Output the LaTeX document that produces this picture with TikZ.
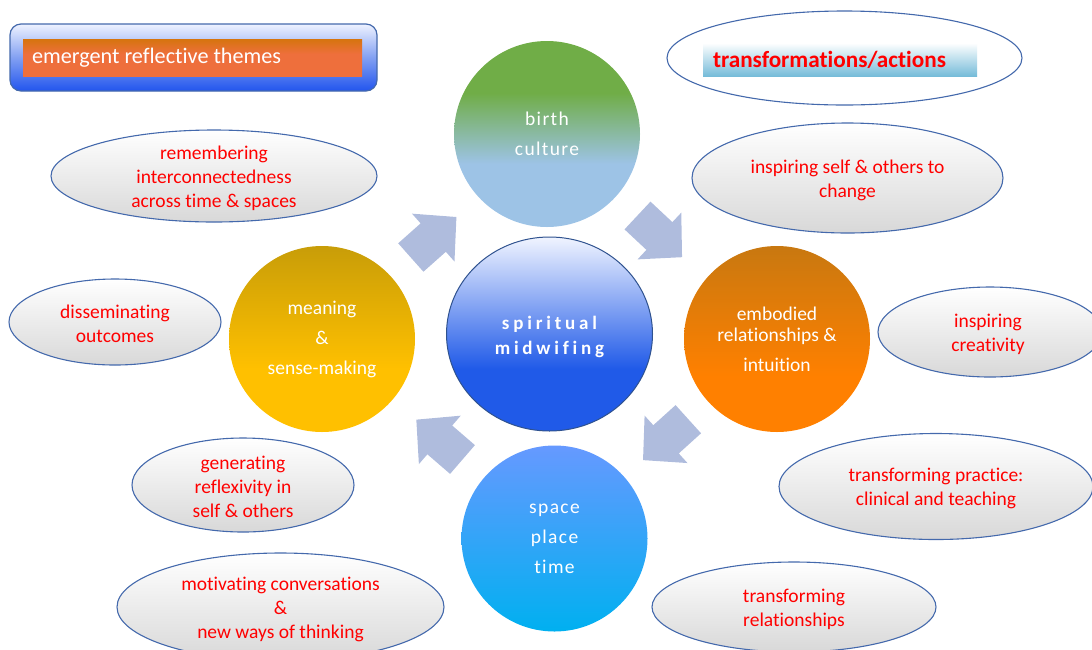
\documentclass[tikz,border=0pt]{standalone}
\usepackage{fontspec}
\setmainfont{Carlito}[Ligatures=NoCommon]
\newfontfamily\trackedfont{Carlito}[LetterSpace=7, Ligatures=NoCommon]
\newfontfamily\widefont{Carlito}[LetterSpace=20, Ligatures=NoCommon]
\usetikzlibrary{shapes.geometric}

% palette
\definecolor{edgeblue}{RGB}{68,105,172}
\definecolor{ellgray}{RGB}{216,216,216}
\definecolor{arrowfill}{RGB}{175,188,221}
\definecolor{leaf}{RGB}{112,173,71}
\definecolor{skyb}{RGB}{157,195,230}
\definecolor{paleblue}{RGB}{240,244,255}
\definecolor{royal}{RGB}{32,90,232}
\definecolor{midblue}{RGB}{47,82,143}
\definecolor{ochre}{RGB}{200,120,16}
\definecolor{tangerine}{RGB}{255,128,0}
\definecolor{mustard}{RGB}{200,157,8}
\definecolor{amber}{RGB}{255,192,0}
\definecolor{cornflower}{RGB}{102,153,255}
\definecolor{cyanish}{RGB}{0,176,240}
\definecolor{bannerlow}{RGB}{34,85,238}
\definecolor{bannermid}{RGB}{130,160,242}
\definecolor{bannertop}{RGB}{238,242,255}
\definecolor{burnt}{RGB}{214,116,14}
\definecolor{salmon}{RGB}{238,111,60}
\definecolor{seablue}{RGB}{118,188,217}
\definecolor{redtext}{RGB}{255,0,0}

% vertical shadings (path spans 25bp..75bp)
\pgfdeclareverticalshading{birthshade}{100bp}{color(0bp)=(skyb); color(42bp)=(skyb); color(61bp)=(leaf); color(100bp)=(leaf)}
\pgfdeclareverticalshading{coreshade}{100bp}{color(0bp)=(royal); color(41bp)=(royal); color(75bp)=(paleblue); color(100bp)=(paleblue)}
\pgfdeclareverticalshading{bodyshade}{100bp}{color(0bp)=(tangerine); color(40bp)=(tangerine); color(75bp)=(ochre); color(100bp)=(ochre)}
\pgfdeclareverticalshading{meanshade}{100bp}{color(0bp)=(amber); color(42bp)=(amber); color(75bp)=(mustard); color(100bp)=(mustard)}
\pgfdeclareverticalshading{spaceshade}{100bp}{color(0bp)=(cyanish); color(25bp)=(cyanish); color(75bp)=(cornflower); color(100bp)=(cornflower)}
\pgfdeclareverticalshading{bannershade}{100bp}{color(0bp)=(bannerlow); color(25bp)=(bannerlow); color(50bp)=(bannermid); color(75bp)=(bannertop); color(100bp)=(bannertop)}
\pgfdeclareverticalshading{labelshade}{100bp}{color(0bp)=(salmon); color(55bp)=(salmon); color(75bp)=(burnt); color(100bp)=(burnt)}
\pgfdeclareverticalshading{actshade}{100bp}{color(0bp)=(seablue); color(25bp)=(seablue); color(75bp)=(white); color(100bp)=(white)}

\tikzset{
  theme/.style={ellipse, draw=edgeblue, line width=1.1pt, top color=white,
    bottom color=ellgray, inner sep=0pt},
  themetext/.style={inner sep=0pt, align=center, text=redtext, yshift=-2pt,
    font=\fontsize{19.5}{24}\selectfont},
  hub/.style={circle, inner sep=0pt, minimum size=186pt, text=white,
    align=center, font=\fontsize{19.5}{30}\selectfont},
  blockarrow/.pic={\fill[arrowfill] (0,-19) -- (30,-19) -- (30,-32) -- (61,0)
    -- (30,32) -- (30,19) -- (0,19) -- cycle;}
}

\begin{document}
\begin{tikzpicture}[x=1pt, y=-1pt]
\useasboundingbox (0,0) rectangle (1092,649);
\clip (0,0) rectangle (1092,649);

% cycle arrows between the hubs
\coordinate (tailA) at (410.8,257.5);
\coordinate (tailB) at (637.5,215.5);
\coordinate (tailC) at (688.3,419.2);
\coordinate (tailD) at (462.5,459.5);
\pic[rotate=41.6] at (tailA) {blockarrow};
\pic[rotate=-43.1] at (tailB) {blockarrow};
\pic[rotate=-137.9] at (tailC) {blockarrow};
\pic[rotate=139.2] at (tailD) {blockarrow};

% hubs
\node[hub, shading=birthshade, font=\trackedfont\fontsize{19.5}{30}\selectfont]
  (birth) at (547,134) {birth\\culture};
\node[hub, shading=bodyshade] (body) at (777,339)
  {embodied\\[-9pt]relationships \&\\intuition};
\node[hub, shading=spaceshade, font=\trackedfont\fontsize{19.5}{30}\selectfont]
  (space) at (554.5,538.5) {space\\place\\time};
\node[hub, shading=meanshade] (meaning) at (322,339)
  {meaning\\\&\\sense-making};
\node[ellipse, inner sep=0pt, minimum width=206pt, minimum height=194pt,
  draw=midblue, line width=1pt, shading=coreshade] (core) at (549.5,334) {};
\node[inner sep=0pt, text=white, align=center,
  font=\widefont\bfseries\fontsize{19}{25}\selectfont]
  (coretext) at ([yshift=-2.5pt]core.center) {spiritual\\midwifing};

% header banner
\node[draw=edgeblue, line width=1.2pt, rounded corners=11pt, shading=bannershade,
  minimum width=367pt, minimum height=67pt, inner sep=0pt] (banner) at (193.5,57.5) {};
\node[shading=labelshade, minimum width=339pt, minimum height=37pt, inner sep=0pt]
  (bannerlabel) at (192.5,57.5) {};
\node[anchor=west, inner sep=0pt, text=white, font=\fontsize{22.2}{26}\selectfont]
  (bannertext) at ([xshift=9pt]bannerlabel.west) {emergent reflective themes};

% actions header
\node[ellipse, draw=edgeblue, line width=1.1pt, fill=white, inner sep=0pt,
  minimum width=355pt, minimum height=94pt] (acts) at (844.5,58) {};
\node[shading=actshade, minimum width=274pt, minimum height=33pt, inner sep=0pt]
  (actslabel) at (840,59.5) {};
\node[anchor=west, inner sep=0pt, text=redtext, font=\bfseries\fontsize{23.2}{27}\selectfont]
  (actstext) at ([xshift=10pt]actslabel.west) {transformations/actions};

% reflective themes
\node[theme, minimum width=326pt, minimum height=92pt] (remember) at (214,176) {};
\node[themetext] at (remember) {remembering\\interconnectedness\\across time \& spaces};
\node[theme, minimum width=212pt, minimum height=86pt] (dissem) at (115,322) {};
\node[themetext] at (dissem) {disseminating\\outcomes};
\node[theme, minimum width=222pt, minimum height=94pt] (reflex) at (243,485) {};
\node[themetext] at (reflex) {generating\\reflexivity in\\self \& others};
\node[theme, minimum width=327pt, minimum height=108pt] (motiv) at (280.5,607) {};
\node[themetext] at (motiv) {motivating conversations\\\&\\new ways of thinking};

% transformations / actions
\node[theme, minimum width=311pt, minimum height=110pt] (inspire) at (847.5,178) {};
\node[themetext] at (inspire) {inspiring self \& others to\\change};
\node[theme, minimum width=224pt, minimum height=90pt] (create) at (990,332) {};
\node[themetext] at ([xshift=-2pt]create.center) {inspiring\\creativity};
\node[theme, minimum width=314pt, minimum height=106pt] (practice) at (936,486.5) {};
\node[themetext] at (practice) {transforming practice:\\clinical and teaching};
\node[theme, minimum width=284pt, minimum height=90pt] (relate) at (794,607) {};
\node[themetext] at (relate) {transforming\\relationships};
\end{tikzpicture}
\end{document}
